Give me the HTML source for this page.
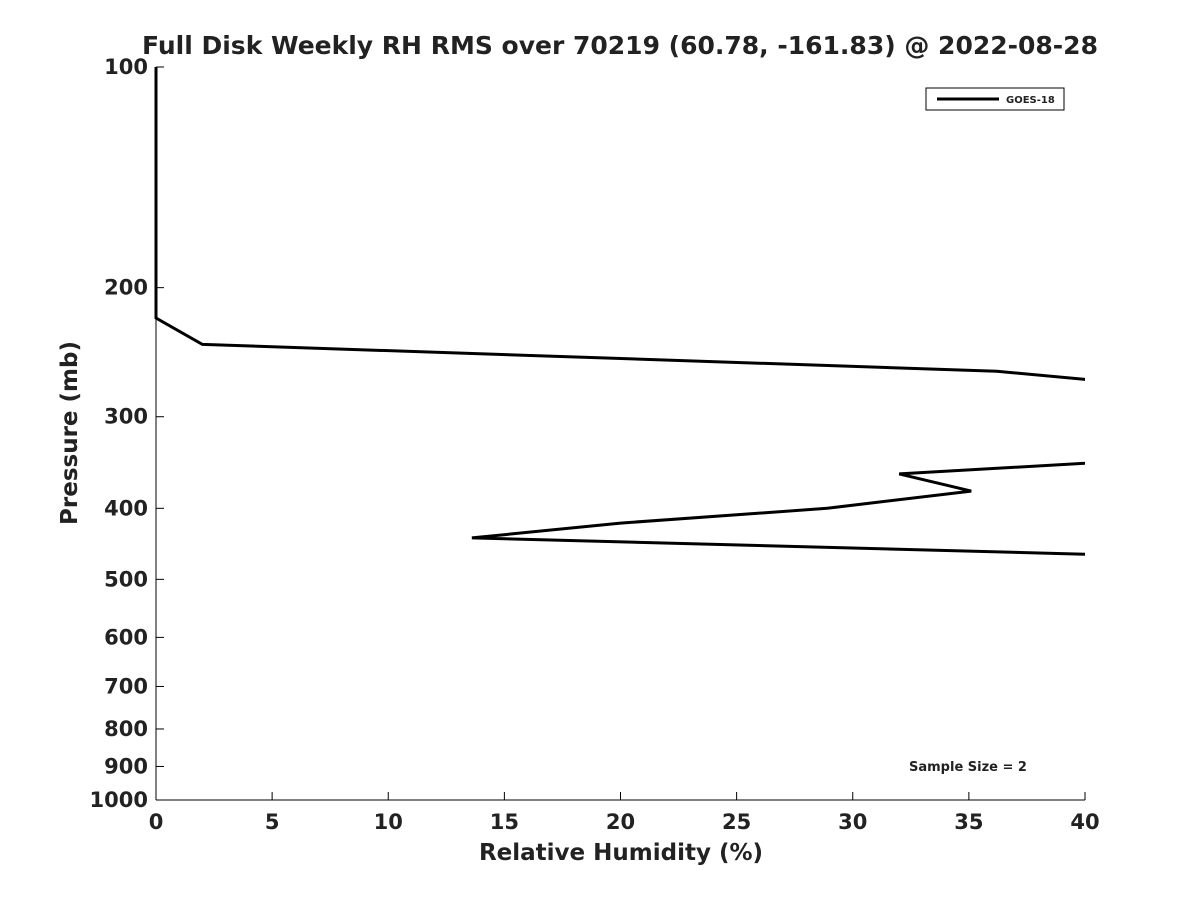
<!DOCTYPE html>
<html><head><meta charset="utf-8"><style>
body{margin:0;background:#fff;}
svg text{font-family:"DejaVu Sans","Liberation Sans",sans-serif;font-weight:bold;fill:#222;}
</style></head><body>
<svg width="1200" height="900" xmlns="http://www.w3.org/2000/svg">
<rect width="1200" height="900" fill="#fff"/>
<text x="620" y="54" text-anchor="middle" font-size="25">Full Disk Weekly RH RMS over 70219 (60.78, -161.83) @ 2022-08-28</text>
<defs><clipPath id="plotclip"><rect x="154" y="65" width="931" height="737"/></clipPath></defs>
<g id="axes"></g>
<path id="series" fill="none" stroke="#000" stroke-width="3" clip-path="url(#plotclip)"/>
<g>
<rect x="926" y="88" width="138" height="22" fill="#fff" stroke="#000" stroke-width="1"/>
<line x1="937" y1="99" x2="999" y2="99" stroke="#000" stroke-width="3"/>
<text x="1006" y="103" font-size="10">GOES-18</text>
</g>
<text x="968" y="771" text-anchor="middle" font-size="13">Sample Size = 2</text>
<text x="621" y="860" text-anchor="middle" font-size="23">Relative Humidity (%)</text>
<text transform="translate(77,433) rotate(-90)" text-anchor="middle" font-size="23">Pressure (mb)</text>
</svg>
<script>
const xTicks=[0,5,10,15,20,25,30,35,40];
const yTicks=[100,200,300,400,500,600,700,800,900,1000];
const rhValues=[0,0,0,2.0,36.2,45,45,32.0,35.1,28.9,20.0,13.6,40];
const pressures=[100,150,220,239,260,276,340,359,379,400,419,439,462];
const X0=156,X1=1085,Y0=67,Y1=800;
function xs(v){return X0+(v-0)/(40-0)*(X1-X0);}
function ys(p){return Y0+(Math.log10(p)-2)/(3-2)*(Y1-Y0);}
const NS="http://www.w3.org/2000/svg";
const g=document.getElementById('axes');
function mk(t,a){const e=document.createElementNS(NS,t);for(const k in a)e.setAttribute(k,a[k]);g.appendChild(e);return e;}
let ax=mk('line',{x1:X0,y1:Y1,x2:X1,y2:Y1,stroke:'#000','stroke-width':1});


let ay=mk('line',{x1:X0,y1:Y0,x2:X0,y2:Y1,stroke:'#000','stroke-width':1});


xTicks.forEach(v=>{
 const x=xs(v);
 mk('line',{x1:x,y1:Y1,x2:x,y2:Y1-8,stroke:'#000'});
 const t=mk('text',{x:x,y:Y1+29,'text-anchor':'middle','font-size':21});
 t.textContent=v;
 
 
});
yTicks.forEach(v=>{
 const y=ys(v);
 mk('line',{x1:X0,y1:y,x2:X0+8,y2:y,stroke:'#000'});
 const t=mk('text',{x:X0-8,y:y+7,'text-anchor':'end','font-size':21});
 t.textContent=v;
 
 
});
document.getElementById('series').setAttribute('d',rhValues.map((v,i)=>(i?'L':'M')+xs(v).toFixed(1)+','+ys(pressures[i]).toFixed(1)).join(' '));
</script>
</body></html>
